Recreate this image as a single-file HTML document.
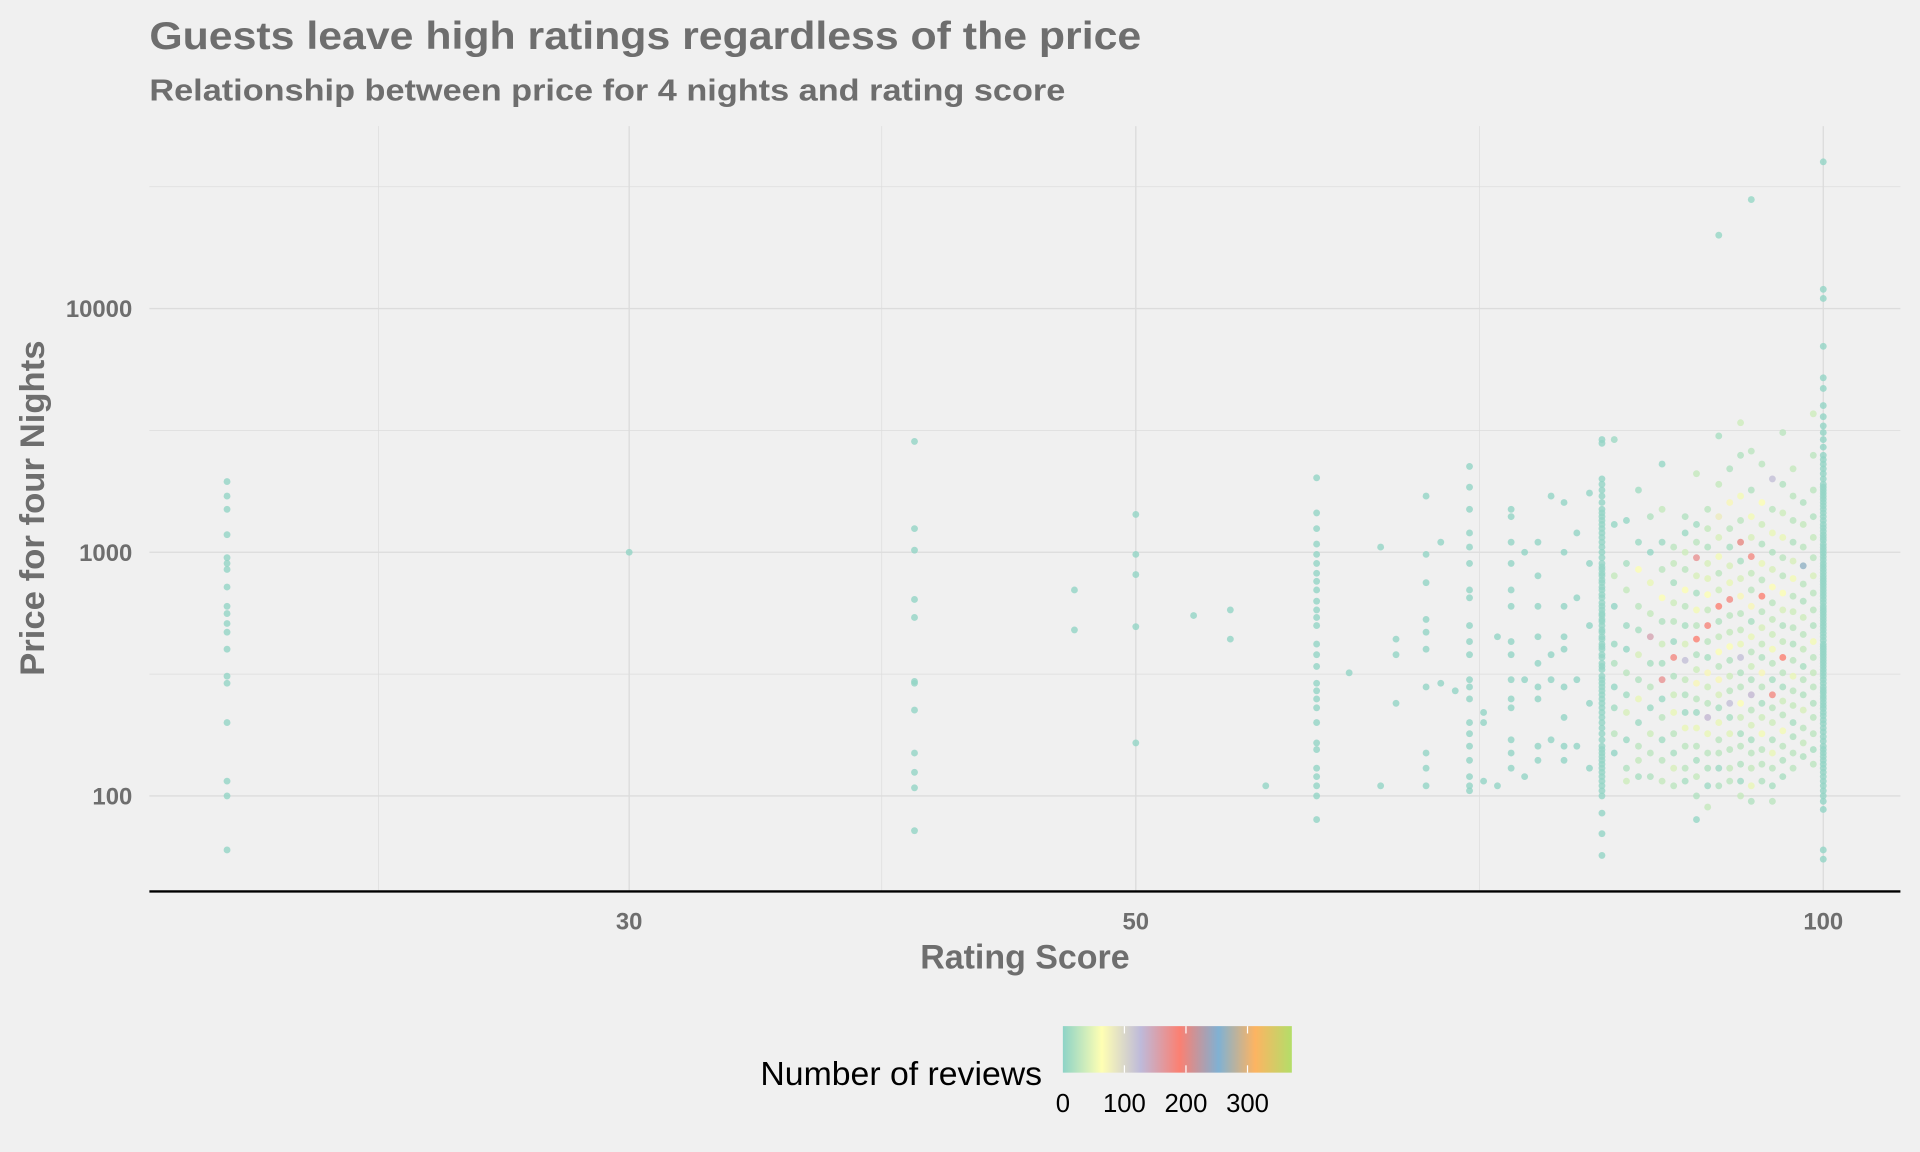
<!DOCTYPE html>
<html><head><meta charset="utf-8">
<style>
html,body{margin:0;padding:0;background:#f0f0f0;}
svg{display:block;font-family:"Liberation Sans",sans-serif;}
</style></head>
<body>
<svg id="chart" width="1920" height="1152" viewBox="0 0 1568 940.8" xmlns="http://www.w3.org/2000/svg">
<defs>
<linearGradient id="cbar" x1="0" x2="1" y1="0" y2="0">
<stop offset="0" stop-color="#8dd3c7"/>
<stop offset="0.17" stop-color="#ffffb3"/>
<stop offset="0.34" stop-color="#bebada"/>
<stop offset="0.51" stop-color="#fb8072"/>
<stop offset="0.68" stop-color="#80b1d3"/>
<stop offset="0.84" stop-color="#fdb462"/>
<stop offset="1" stop-color="#b3de69"/>
</linearGradient>
</defs>
<rect width="1568" height="941" fill="#f0f0f0"/>
<text x="122" y="40" font-size="32" font-weight="bold" fill="#6e6e6e" textLength="810" lengthAdjust="spacingAndGlyphs">Guests leave high ratings regardless of the price</text>
<text x="122" y="82" font-size="25" font-weight="bold" fill="#6e6e6e" textLength="748" lengthAdjust="spacingAndGlyphs">Relationship between price for 4 nights and rating score</text>
<g id="grid"></g>
<g id="points"></g>
<line x1="122" x2="1552" y1="728" y2="728" stroke="#000" stroke-width="2"/>
<g id="xticks"></g>
<g id="yticks"></g>
<text x="837" y="791" text-anchor="middle" font-size="28" font-weight="bold" fill="#6e6e6e" textLength="171" lengthAdjust="spacingAndGlyphs">Rating Score</text>
<text transform="translate(36,415) rotate(-90)" text-anchor="middle" font-size="28" font-weight="bold" fill="#6e6e6e" textLength="274" lengthAdjust="spacingAndGlyphs">Price for four Nights</text>
<g>
<text x="851" y="886" text-anchor="end" font-size="27" fill="#000" textLength="230" lengthAdjust="spacingAndGlyphs">Number of reviews</text>
<rect x="868" y="838" width="187" height="38" fill="url(#cbar)"/>
<g id="legticks"></g>
</g>
</svg>
<script>
const xTicks = [30, 50, 100];
const xMinor = [23.3, 38.7, 70.7];
const yTicks = [100, 1000, 10000];
const yMinor = [316, 3162, 31623];
const legTicks = [0, 100, 200, 300];

const colRatings = [20,30,40,47,50,53,55,57,60,62,64,65,67,68,69,70,71,72,73,74,75,76,77,78,79,80,81,82,83,84,85,86,87,88,89,90,91,92,93,94,95,96,97,98,99,100];
const colPrices = [
[1950,1700,1500,1180,950,900,850,720,600,560,510,470,400,310,290,200,115,100,60],
[1000],
[2850,1250,1020,640,540,295,290,225,150,125,108,72],
[700,480],
[1430,980,810,495,165],
[550],
[580,440],
[110],
[2020,1450,1250,1080,980,900,820,760,700,630,580,540,500,420,380,340,290,270,250,230,200,165,155,130,120,110,100,80],
[320],
[1050,110],
[440,380,240],
[1700,980,750,530,470,400,280,150,130,110],
[1100,290],
[270],
[2250,1850,1500,1200,1050,900,700,650,500,430,380,300,280,250,200,180,160,140,120,110,105],
[220,200,115],
[450,110],
[1500,1400,1100,900,700,600,430,380,300,250,230,170,150,130],
[1000,300,120],
[1100,800,600,450,350,280,250,160,140],
[1700,380,300,170],
[1600,1000,600,450,400,280,210,160,140],
[1200,650,300,160],
[1750,900,500,240,130],
[2900,2800,2000,1900,1800,1700,1600,1500,1450,1400,1350,1300,1250,1200,1150,1100,1050,1000,950,900,870,850,820,800,770,750,720,700,670,650,620,600,580,560,550,530,520,500,480,470,450,440,420,410,400,380,370,350,340,330,310,300,290,280,270,260,250,240,230,220,210,200,190,180,170,160,155,150,145,140,135,130,125,120,115,110,105,100,85,70,57],
[2900,1300,800,600,420,350,280,230,180,150],
[1350,900,700,500,400,320,260,220,170,130,115],
[1800,1100,850,600,480,380,300,250,200,160,140,120],
[1400,1000,750,560,450,350,280,230,180,150,120],
[2300,1500,1100,850,650,520,420,350,300,250,210,170,140,115],
[1050,900,750,620,520,430,370,310,260,220,180,150,130,110],
[1400,1200,1000,850,700,600,500,420,360,300,260,220,190,160,130,115],
[2100,1300,1100,950,800,680,580,500,440,380,330,290,250,220,190,160,140,120,100,80],
[1500,1250,1050,900,780,670,580,500,430,370,320,280,240,210,180,150,130,110,90],
[20000,3000,1900,1400,1150,960,820,700,600,520,450,390,340,300,260,230,200,170,150,130,110],
[2200,1600,1250,1050,880,750,640,550,470,410,360,310,270,240,210,180,155,130,115],
[3400,2500,1700,1350,1100,920,780,660,560,480,420,370,320,280,240,210,180,160,135,115,100],
[28000,2600,1800,1400,1150,960,820,700,600,520,450,390,340,300,260,225,195,170,150,130,110,95],
[2300,1600,1300,1080,900,770,660,570,490,420,370,320,280,240,210,180,155,135,115],
[2000,1500,1200,1000,850,720,620,530,460,400,350,300,260,230,200,170,150,130,110,95],
[3100,1900,1450,1150,950,800,680,580,500,430,370,320,280,245,215,185,160,140,120],
[2200,1700,1350,1100,920,780,660,570,490,420,360,310,270,235,200,175,150,130],
[1600,1300,1050,880,740,630,540,460,400,340,300,260,225,190,165,145],
[3700,2500,1800,1400,1150,950,800,680,580,500,430,370,320,280,240,210,180,155,135],
[40000,12000,11000,7000,5200,4700,4000,3600,3300,3100,2900,2700,2500,2400,2300,2200,2100,2000,1900,1850,1800,1750,1700,1650,1600,1550,1500,1450,1400,1350,1300,1260,1220,1180,1150,1120,1080,1050,1020,990,960,930,900,875,850,825,800,780,760,740,720,700,680,660,640,620,600,585,570,555,540,525,510,495,480,465,450,435,420,410,400,390,380,370,360,350,340,330,320,310,300,290,280,272,265,257,250,242,235,228,220,213,205,198,190,183,175,168,160,155,150,145,140,135,130,125,120,115,110,105,100,95,88,60,55]
];
const colReviews = [
[],[],[],[],[],[],[],[],[],[],[],[],[],[],[],[],[],[],[],[],[],[],[],[],[],
[],
[10,5,30,3,8,20,5,12,25,3],
[5,15,30,10,5,25,12,40,8,20,35],
[12,8,60,25,15,40,20,50,10,25,30,15],
[20,5,50,30,150,15,25,8,35,25,20],
[5,30,10,25,60,20,35,15,170,8,25,12,25,30],
[25,30,15,35,25,10,180,20,35,50,25,15,40,25],
[20,8,35,25,60,25,15,40,120,30,20,10,50,25,25,15],
[30,12,25,170,40,15,55,25,190,20,35,70,25,10,50,25,15,30,20,5],
[25,30,20,40,45,60,30,185,25,15,70,35,25,130,50,25,20,10,30],
[5,15,30,80,40,55,25,35,190,20,30,60,25,70,40,15,50,25,25,10,20],
[20,70,25,15,40,50,180,25,30,60,20,35,25,120,15,45,25,30,25],
[35,20,55,25,200,15,40,70,25,30,50,120,20,25,60,35,15,25,20,10,30],
[5,25,20,55,40,180,30,25,70,15,50,25,35,20,130,25,40,15,25,30,50,20],
[25,60,35,20,50,25,190,25,40,30,20,70,25,15,35,55,25,25,20],
[120,25,50,20,40,65,25,30,35,55,25,15,180,25,35,20,50,25,15,25],
[25,20,35,50,25,25,60,40,20,30,190,25,15,35,25,55,25,20,15],
[30,25,25,20,40,55,25,35,25,20,25,50,25,30,15,20,25,25],
[20,30,25,260,25,20,35,25,30,15,25,20,40,25,30,20],
[35,25,25,20,30,25,40,25,25,20,55,25,30,25,20,25,25,15,25],
[]
];

const NS = "http://www.w3.org/2000/svg";
const X0 = 1489, XD = 1865, Y0 = 650, YD = 199;
function xs(v){ return X0 + XD * (Math.log10(v) - 2); }
function ys(v){ return Y0 - YD * (Math.log10(v) - 2); }
const cStops = [[0,[141,211,199]],[62,[255,255,179]],[125,[190,186,218]],[190,[251,128,114]],[252,[128,177,211]],[312,[253,180,98]],[372,[179,222,105]]];
function col(r){
  r = Math.max(0, Math.min(372, r));
  for (let i=1;i<cStops.length;i++){
    if (r <= cStops[i][0]){
      const a=cStops[i-1], b=cStops[i], t=(r-a[0])/(b[0]-a[0]);
      return "rgb("+a[1].map((c,k)=>Math.round(c+(b[1][k]-c)*t)).join(",")+")";
    }
  }
  return "rgb(179,222,105)";
}
const grid = document.getElementById("grid");
function gline(x1,y1,x2,y2,w,nm){
  const l=document.createElementNS(NS,"line");
  l.setAttribute("x1",x1);l.setAttribute("y1",y1);l.setAttribute("x2",x2);l.setAttribute("y2",y2);
  l.setAttribute("stroke","#dcdcdc");l.setAttribute("stroke-width",w);
  
  
  grid.appendChild(l);
}
xTicks.forEach(v=>gline(xs(v),103,xs(v),728,1.1,"x-gridline"));
xMinor.forEach(v=>gline(xs(v),103,xs(v),728,0.6,"x-minor-gridline"));
yTicks.forEach(v=>gline(122,ys(v),1552,ys(v),1.1,"y-gridline"));
yMinor.forEach(v=>{ if(ys(v)>103) gline(122,ys(v),1552,ys(v),0.6,"y-minor-gridline"); });

const xt=document.getElementById("xticks");
xTicks.forEach(v=>{
  const t=document.createElementNS(NS,"text");
  t.setAttribute("x",xs(v));t.setAttribute("y",759);t.setAttribute("text-anchor","middle");
  t.setAttribute("font-size","19.5");t.setAttribute("font-weight","bold");t.setAttribute("fill","#6e6e6e");
  
  
  t.textContent=v; xt.appendChild(t);
});
const yt=document.getElementById("yticks");
yTicks.forEach(v=>{
  const t=document.createElementNS(NS,"text");
  t.setAttribute("x",108);t.setAttribute("y",ys(v)+7);t.setAttribute("text-anchor","end");
  t.setAttribute("font-size","19.5");t.setAttribute("font-weight","bold");t.setAttribute("fill","#6e6e6e");
  
  
  t.textContent=v; yt.appendChild(t);
});
const lt=document.getElementById("legticks");
legTicks.forEach(v=>{
  const x=868+187*v/372;
  const t=document.createElementNS(NS,"text");
  t.setAttribute("x",x);t.setAttribute("y",908);t.setAttribute("text-anchor","middle");
  t.setAttribute("font-size","21");t.setAttribute("fill","#000");
  
  
  t.textContent=v; lt.appendChild(t);
  if (v>0){
    [[838,844],[870,876]].forEach(s=>{
      const l=document.createElementNS(NS,"line");
      l.setAttribute("x1",x);l.setAttribute("x2",x);l.setAttribute("y1",s[0]);l.setAttribute("y2",s[1]);
      l.setAttribute("stroke","#fff");l.setAttribute("stroke-width","1");
      
      
      lt.appendChild(l);
    });
  }
});
const pg=document.getElementById("points");
colRatings.forEach((r,i)=>{
  colPrices[i].forEach((p,j)=>{
    const rv = (colReviews[i] && colReviews[i][j] !== undefined) ? colReviews[i][j] : 3;
    const c=document.createElementNS(NS,"circle");
    c.setAttribute("cx",xs(r));c.setAttribute("cy",ys(p));c.setAttribute("r",2.8);
    c.setAttribute("fill",col(rv));c.setAttribute("fill-opacity","0.8");
    
    
    pg.appendChild(c);
  });
});
</script>
</body></html>
